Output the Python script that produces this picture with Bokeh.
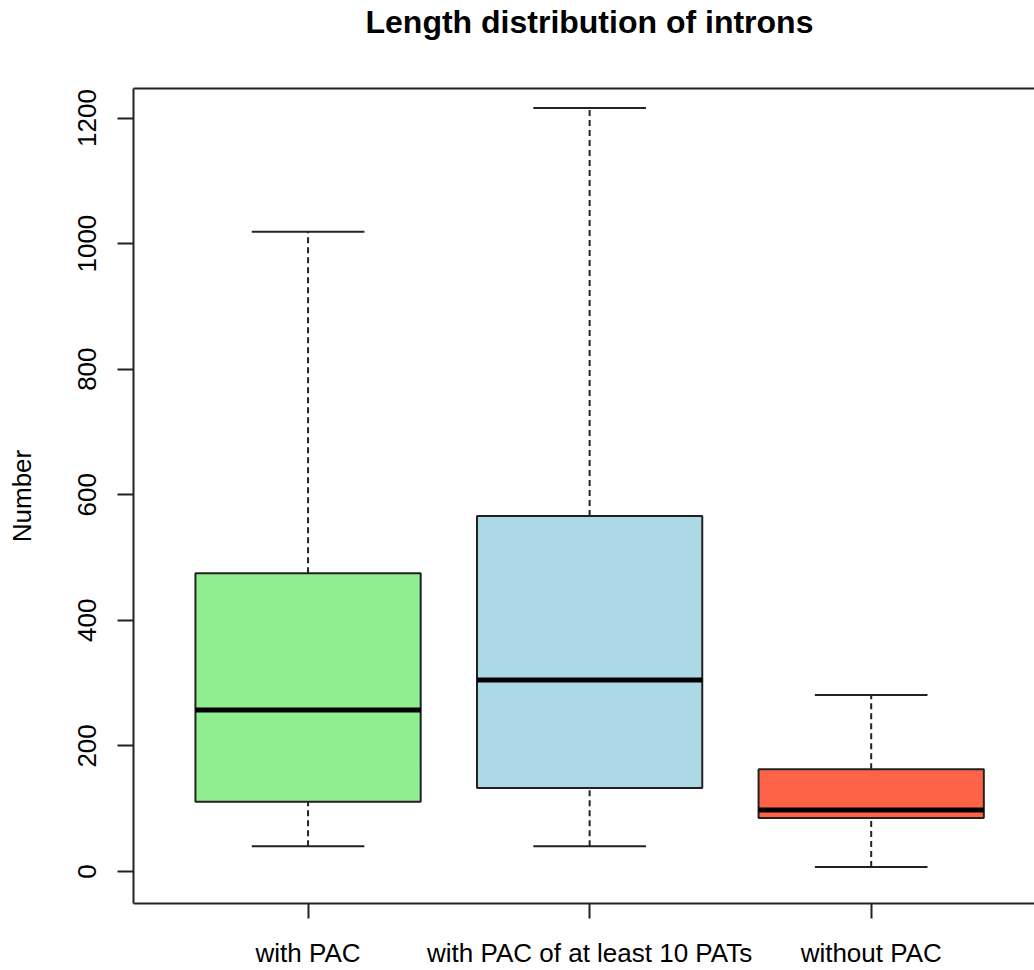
from bokeh.plotting import figure
from bokeh.models import Range1d, FixedTicker, ColumnDataSource, LinearAxis
from bokeh.embed import file_html
from bokeh.resources import INLINE

# ---- data ----
categories = ["with PAC", "with PAC of at least 10 PATs", "without PAC"]
positions = [1, 2, 3]
lower_whisker = [40, 40, 7]
q1 = [111, 133, 85]
median = [257, 305, 98]
q3 = [475, 566, 163]
upper_whisker = [1019, 1216, 281]
colors = ["#90EE90", "#ADD8E6", "#FF6347"]
y_ticks = [0, 200, 400, 600, 800, 1000, 1200]
title_text = "Length distribution of introns"

FONT = "Liberation Sans"
LINE = "#222222"
box_half = 0.4
cap_half = 0.2
Y0, Y1 = -51, 1247

src = ColumnDataSource(dict(
    x=positions,
    left=[p - box_half for p in positions],
    right=[p + box_half for p in positions],
    cap_l=[p - cap_half for p in positions],
    cap_r=[p + cap_half for p in positions],
    lo=lower_whisker, q1=q1, med=median, q3=q3, hi=upper_whisker,
    color=colors,
))

p = figure(
    frame_width=901, frame_height=815,
    x_range=Range1d(0.38, 3.58), y_range=Range1d(Y0, Y1),
    min_border_left=133, min_border_right=0, min_border_top=88, min_border_bottom=67,
    output_backend="svg", toolbar_location=None,
)
p.outline_line_color = None
p.background_fill_color = "white"
p.border_fill_color = "white"
p.xgrid.visible = False
p.ygrid.visible = False

# top frame line: an axis "above" without ticks; its (invisible) label leaves room under the title
top = LinearAxis(ticker=FixedTicker(ticks=[]), axis_line_color=LINE, axis_line_width=2,
                 major_tick_out=0, major_tick_in=0, minor_tick_out=0, minor_tick_in=0,
                 major_label_standoff=0, axis_label=".", axis_label_text_alpha=0.0,
                 axis_label_text_font_size="10px", axis_label_standoff=38)
p.add_layout(top, "above")

p.title.text = title_text
p.title.text_font = FONT
p.title.text_font_size = "32px"
p.title.text_font_style = "bold"
p.title.text_color = "black"
p.title.align = "left"
p.title.offset = 232
p.title.vertical_align = "bottom"
p.title.standoff = 0

# whiskers (dashed)
p.segment(x0="x", y0="q3", x1="x", y1="hi", source=src, line_color=LINE, line_width=2, line_dash="6 4")
p.segment(x0="x", y0="lo", x1="x", y1="q1", source=src, line_color=LINE, line_width=2, line_dash="6 4")
# caps
p.segment(x0="cap_l", y0="hi", x1="cap_r", y1="hi", source=src, line_color=LINE, line_width=2)
p.segment(x0="cap_l", y0="lo", x1="cap_r", y1="lo", source=src, line_color=LINE, line_width=2)
# boxes
p.quad(left="left", right="right", bottom="q1", top="q3", source=src,
       fill_color="color", line_color=LINE, line_width=2)
# medians
p.segment(x0="left", y0="med", x1="right", y1="med", source=src, line_color="black", line_width=5)

xa = p.below[0]
ya = p.left[0]

for ax in (xa, ya):
    ax.axis_line_color = LINE
    ax.axis_line_width = 2
    ax.major_tick_line_color = LINE
    ax.major_tick_line_width = 2
    ax.major_tick_in = 0
    ax.minor_tick_line_color = None
    ax.major_label_text_font = FONT
    ax.major_label_text_font_size = "26px"
    ax.major_label_text_color = "black"

xa.ticker = FixedTicker(ticks=positions)
xa.major_label_overrides = {pos: lab for pos, lab in zip(positions, categories)}
xa.major_tick_out = 15
xa.major_label_standoff = 19

ya.ticker = FixedTicker(ticks=y_ticks)
ya.major_tick_out = 16
ya.major_label_orientation = "vertical"
ya.major_label_standoff = 21
ya.axis_label = "Number"
ya.axis_label_text_font = FONT
ya.axis_label_text_font_size = "26px"
ya.axis_label_text_font_style = "normal"
ya.axis_label_text_color = "black"
ya.axis_label_standoff = 39

open("out.html", "w").write(file_html(p, INLINE))
